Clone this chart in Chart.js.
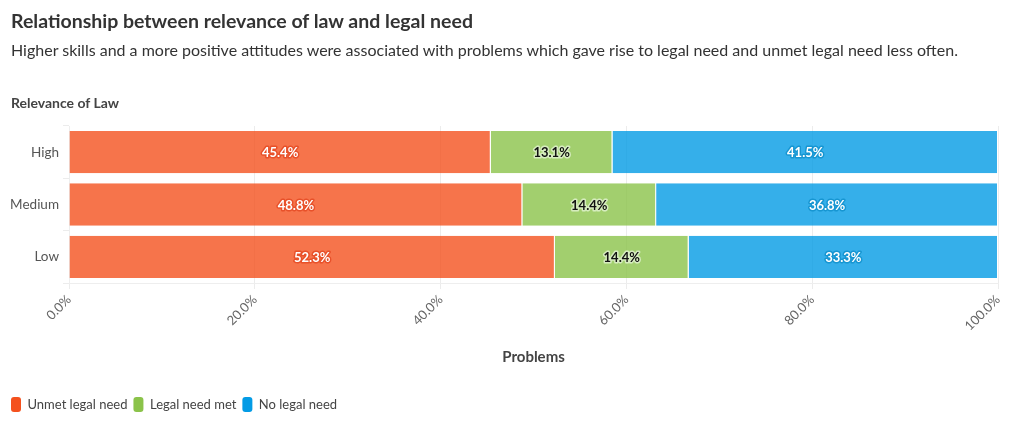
<!DOCTYPE html>
<html>
<head>
<meta charset="utf-8">
<script src="https://cdn.jsdelivr.net/npm/chart.js@4/dist/chart.umd.min.js"></script>
<style>
  html, body { margin: 0; padding: 0; background: #fff; width: 1020px; height: 422px; overflow: hidden; font-family: Lato, "Noto Sans", sans-serif; }
  #title { position: absolute; left: 11px; top: 9px; font-size: 19.5px; font-weight: bold; color: #333; white-space: nowrap; }
  #subtitle { position: absolute; left: 11px; top: 40px; font-size: 16px; color: #333; white-space: nowrap; }
  #ytitle { position: absolute; left: 11px; top: 94px; font-size: 14px; font-weight: bold; color: #444; white-space: nowrap; }
  #wrap { position: absolute; left: 0; top: 0; width: 1020px; height: 422px; }
</style>
</head>
<body>
<div id="wrap"><canvas id="c" width="1020" height="422"></canvas></div>
<div id="title">Relationship between relevance of law and legal need</div>
<div id="subtitle">Higher skills and a more positive attitudes were associated with problems which gave rise to legal need and unmet legal need less often.</div>
<div id="ytitle">Relevance of Law</div>
<script>
const categories = ["High", "Medium", "Low"];
const seriesNames = ["Unmet legal need", "Legal need met", "No legal need"];
const unmetLegalNeed = [45.4, 48.8, 52.3];
const legalNeedMet = [13.1, 14.4, 14.4];
const noLegalNeed = [41.5, 36.8, 33.3];
const xTicks = [0, 20, 40, 60, 80, 100];

const solid = ["#F4511E", "#8BC34A", "#039BE5"];
const fills = ["rgba(244,81,30,0.8)", "rgba(139,195,74,0.8)", "rgba(3,155,229,0.8)"];
const labelStyle = [
  { fill: "#ffffff", stroke: "#E8512A" },
  { fill: "#111111", stroke: "rgba(220,240,200,0.9)" },
  { fill: "#ffffff", stroke: "#1796D2" }
];

const labelPlugin = {
  id: "barLabels",
  afterDatasetsDraw(chart) {
    const ctx = chart.ctx;
    ctx.save();
    ctx.font = "bold 13px Lato, 'Noto Sans', sans-serif";
    ctx.textAlign = "center";
    ctx.textBaseline = "middle";
    ctx.lineJoin = "round";
    chart.data.datasets.forEach((ds, di) => {
      const meta = chart.getDatasetMeta(di);
      meta.data.forEach((el, i) => {
        const p = el.getCenterPoint();
        const txt = ds.data[i].toFixed(1) + "%";
        ctx.lineWidth = 3;
        ctx.strokeStyle = labelStyle[di].stroke;
        ctx.strokeText(txt, p.x, p.y + 1);
        ctx.fillStyle = labelStyle[di].fill;
        ctx.fillText(txt, p.x, p.y + 1);
      });
    });
    ctx.restore();
  }
};

const seriesData = [unmetLegalNeed, legalNeedMet, noLegalNeed];

new Chart(document.getElementById("c"), {
  type: "bar",
  data: {
    labels: categories,
    datasets: seriesNames.map((n, i) => ({
      label: n,
      data: seriesData[i],
      backgroundColor: fills[i],
      borderColor: "#ffffff",
      borderWidth: { left: 0, right: 1, top: 0, bottom: 0 },
      borderSkipped: false,
      categoryPercentage: 1,
      barPercentage: 0.81
    }))
  },
  options: {
    indexAxis: "y",
    responsive: false,
    animation: false,
    layout: { padding: { left: 5, right: 22, top: 126, bottom: 0 } },
    scales: {
      x: {
        stacked: true,
        min: 0,
        max: 100,
        afterBuildTicks(scale) { scale.ticks = xTicks.map(v => ({ value: v })); },
        afterFit(scale) { scale.height = 108; },
        ticks: {
          minRotation: 45,
          maxRotation: 45,
          color: "#666",
          font: { size: 13, family: "Lato, 'Noto Sans', sans-serif" },
          callback: v => Number(v).toFixed(1) + "%"
        },
        grid: { color: "#ececec", tickLength: 6 },
        border: { color: "#eeeeee" },
        title: {
          display: true,
          text: "Problems",
          color: "#444",
          font: { size: 15, weight: "bold", family: "Lato, 'Noto Sans', sans-serif" },
          padding: { top: 4, bottom: 25 }
        }
      },
      y: {
        stacked: true,
        afterFit(scale) { scale.width = 64; },
        ticks: { color: "#555", font: { size: 13.5, family: "Lato, 'Noto Sans', sans-serif" }, padding: 4 },
        grid: { drawOnChartArea: false, color: "#ececec", tickLength: 6 },
        border: { color: "#eeeeee" }
      }
    },
    plugins: {
      legend: {
        position: "bottom",
        align: "start",
        labels: {
          boxWidth: 10,
          boxHeight: 15,
          useBorderRadius: true,
          borderRadius: 3,
          padding: 6,
          color: "#444",
          font: { size: 13, family: "Lato, 'Noto Sans', sans-serif" },
          generateLabels(chart) {
            return chart.data.datasets.map((ds, i) => ({
              text: ds.label,
              fillStyle: solid[i],
              strokeStyle: solid[i],
              lineWidth: 0,
              borderRadius: 3,
              datasetIndex: i,
              fontColor: "#444"
            }));
          }
        }
      },
      tooltip: { enabled: false }
    }
  },
  plugins: [labelPlugin]
});
</script>
</body>
</html>
